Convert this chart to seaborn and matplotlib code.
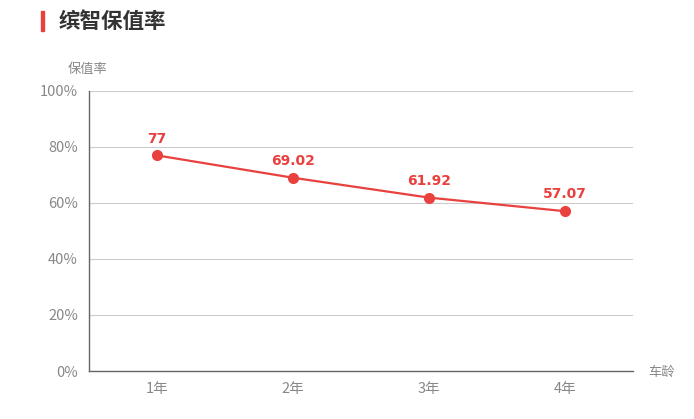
import matplotlib
matplotlib.use("Agg")
import matplotlib.pyplot as plt
import matplotlib.patches as mpatches
import pandas as pd
import seaborn as sns

# --- DATA ---
YEARS = ["1年", "2年", "3年", "4年"]
RETENTION = [77, 69.02, 61.92, 57.07]
VALUE_LABELS = ["77", "69.02", "61.92", "57.07"]
Y_TICKS = [0, 20, 40, 60, 80, 100]

RED = "#e8413e"
GRAY_TEXT = "#888888"

sns.set_style("white")
plt.rcParams['font.family'] = ['Noto Sans CJK SC', 'DejaVu Sans']

df = pd.DataFrame({"year": YEARS, "rate": RETENTION})

fig = plt.figure(figsize=(6.94, 4.19), dpi=100)
ax = fig.add_axes([89 / 694, 48 / 419, 544 / 694, 280 / 419])

sns.lineplot(data=df, x="year", y="rate", ax=ax, color=RED, linewidth=1.6,
             marker="o", markersize=8, markeredgewidth=0, sort=False)

for i, (v, lab) in enumerate(zip(RETENTION, VALUE_LABELS)):
    ax.annotate(lab, (i, v), xytext=(0, 7), textcoords="offset points",
                ha="center", va="bottom", color=RED, fontsize=10,
                fontweight="bold", family=['DejaVu Sans'])

ax.set_xlim(-0.5, 3.5)
ax.set_ylim(0, 100)
ax.set_yticks(Y_TICKS)
ax.set_yticklabels([f"{t}%" for t in Y_TICKS])
ax.yaxis.grid(True, color="#cccccc", linewidth=0.8)
ax.xaxis.grid(False)
ax.tick_params(axis="both", colors=GRAY_TEXT, labelsize=10.5, length=0, pad=8)
ax.set_xlabel("")
ax.set_ylabel("")

for side in ["top", "right"]:
    ax.spines[side].set_visible(False)
for side in ["left", "bottom"]:
    ax.spines[side].set_color("#666666")
    ax.spines[side].set_linewidth(1)

# axis names
fig.text(68 / 694, 1 - 70 / 419, "保值率", color=GRAY_TEXT, fontsize=9.5,
         ha="left", va="center")
fig.text(648 / 694, 1 - 372 / 419, "车龄", color=GRAY_TEXT, fontsize=9.5,
         ha="left", va="center")

# title with red marker bar
fig.patches.append(mpatches.Rectangle((41 / 694, 1 - 31 / 419), 3 / 694, 20 / 419,
                                      transform=fig.transFigure, color=RED))
fig.text(59 / 694, 1 - 21 / 419, "缤智保值率", color="#333333", fontsize=15.5,
         fontweight="bold", ha="left", va="center")

fig.savefig("out.png", dpi=100)
